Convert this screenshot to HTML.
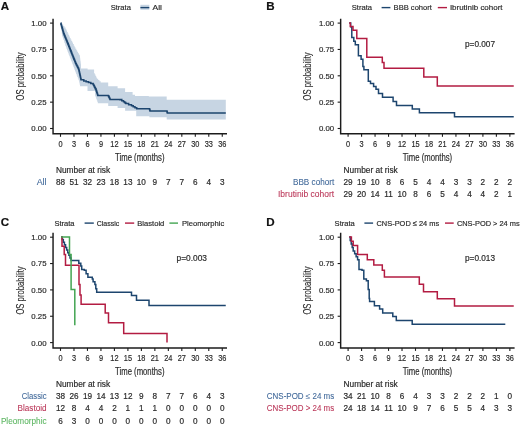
<!DOCTYPE html>
<html><head><meta charset="utf-8"><style>
html,body{margin:0;padding:0;background:#fff;}
svg{display:block;font-family:"Liberation Sans", sans-serif;will-change:transform;}
</style></head><body>
<svg width="520" height="426" viewBox="0 0 520 426">
<rect width="520" height="426" fill="#fff"/>
<text x="0.80" y="9.70" font-size="11.6" text-anchor="start" fill="#111" stroke="#111" stroke-width="0.18" font-weight="bold">A</text>
<path d="M53.05,18.70V133.80H227.00" fill="none" stroke="#1c1c1c" stroke-width="1.45"/>
<path d="M50.05,23.10H53.05" stroke="#1c1c1c" stroke-width="1.1"/>
<text x="46.50" y="26.00" font-size="8" text-anchor="end" fill="#2a2a2a" stroke="#2a2a2a" stroke-width="0.18" font-weight="normal" textLength="15.2" lengthAdjust="spacingAndGlyphs">1.00</text>
<path d="M50.05,49.45H53.05" stroke="#1c1c1c" stroke-width="1.1"/>
<text x="46.50" y="52.35" font-size="8" text-anchor="end" fill="#2a2a2a" stroke="#2a2a2a" stroke-width="0.18" font-weight="normal" textLength="15.2" lengthAdjust="spacingAndGlyphs">0.75</text>
<path d="M50.05,75.80H53.05" stroke="#1c1c1c" stroke-width="1.1"/>
<text x="46.50" y="78.70" font-size="8" text-anchor="end" fill="#2a2a2a" stroke="#2a2a2a" stroke-width="0.18" font-weight="normal" textLength="15.2" lengthAdjust="spacingAndGlyphs">0.50</text>
<path d="M50.05,102.15H53.05" stroke="#1c1c1c" stroke-width="1.1"/>
<text x="46.50" y="105.05" font-size="8" text-anchor="end" fill="#2a2a2a" stroke="#2a2a2a" stroke-width="0.18" font-weight="normal" textLength="15.2" lengthAdjust="spacingAndGlyphs">0.25</text>
<path d="M50.05,128.50H53.05" stroke="#1c1c1c" stroke-width="1.1"/>
<text x="46.50" y="131.40" font-size="8" text-anchor="end" fill="#2a2a2a" stroke="#2a2a2a" stroke-width="0.18" font-weight="normal" textLength="15.2" lengthAdjust="spacingAndGlyphs">0.00</text>
<path d="M60.50,133.80V136.80" stroke="#1c1c1c" stroke-width="1.1"/>
<text x="60.50" y="146.60" font-size="8.8" text-anchor="middle" fill="#2a2a2a" stroke="#2a2a2a" stroke-width="0.18" font-weight="normal" textLength="4.11" lengthAdjust="spacingAndGlyphs">0</text>
<path d="M73.98,133.80V136.80" stroke="#1c1c1c" stroke-width="1.1"/>
<text x="73.98" y="146.60" font-size="8.8" text-anchor="middle" fill="#2a2a2a" stroke="#2a2a2a" stroke-width="0.18" font-weight="normal" textLength="4.11" lengthAdjust="spacingAndGlyphs">3</text>
<path d="M87.46,133.80V136.80" stroke="#1c1c1c" stroke-width="1.1"/>
<text x="87.46" y="146.60" font-size="8.8" text-anchor="middle" fill="#2a2a2a" stroke="#2a2a2a" stroke-width="0.18" font-weight="normal" textLength="4.11" lengthAdjust="spacingAndGlyphs">6</text>
<path d="M100.94,133.80V136.80" stroke="#1c1c1c" stroke-width="1.1"/>
<text x="100.94" y="146.60" font-size="8.8" text-anchor="middle" fill="#2a2a2a" stroke="#2a2a2a" stroke-width="0.18" font-weight="normal" textLength="4.11" lengthAdjust="spacingAndGlyphs">9</text>
<path d="M114.42,133.80V136.80" stroke="#1c1c1c" stroke-width="1.1"/>
<text x="114.42" y="146.60" font-size="8.8" text-anchor="middle" fill="#2a2a2a" stroke="#2a2a2a" stroke-width="0.18" font-weight="normal" textLength="8.22" lengthAdjust="spacingAndGlyphs">12</text>
<path d="M127.90,133.80V136.80" stroke="#1c1c1c" stroke-width="1.1"/>
<text x="127.90" y="146.60" font-size="8.8" text-anchor="middle" fill="#2a2a2a" stroke="#2a2a2a" stroke-width="0.18" font-weight="normal" textLength="8.22" lengthAdjust="spacingAndGlyphs">15</text>
<path d="M141.38,133.80V136.80" stroke="#1c1c1c" stroke-width="1.1"/>
<text x="141.38" y="146.60" font-size="8.8" text-anchor="middle" fill="#2a2a2a" stroke="#2a2a2a" stroke-width="0.18" font-weight="normal" textLength="8.22" lengthAdjust="spacingAndGlyphs">18</text>
<path d="M154.86,133.80V136.80" stroke="#1c1c1c" stroke-width="1.1"/>
<text x="154.86" y="146.60" font-size="8.8" text-anchor="middle" fill="#2a2a2a" stroke="#2a2a2a" stroke-width="0.18" font-weight="normal" textLength="8.22" lengthAdjust="spacingAndGlyphs">21</text>
<path d="M168.34,133.80V136.80" stroke="#1c1c1c" stroke-width="1.1"/>
<text x="168.34" y="146.60" font-size="8.8" text-anchor="middle" fill="#2a2a2a" stroke="#2a2a2a" stroke-width="0.18" font-weight="normal" textLength="8.22" lengthAdjust="spacingAndGlyphs">24</text>
<path d="M181.82,133.80V136.80" stroke="#1c1c1c" stroke-width="1.1"/>
<text x="181.82" y="146.60" font-size="8.8" text-anchor="middle" fill="#2a2a2a" stroke="#2a2a2a" stroke-width="0.18" font-weight="normal" textLength="8.22" lengthAdjust="spacingAndGlyphs">27</text>
<path d="M195.30,133.80V136.80" stroke="#1c1c1c" stroke-width="1.1"/>
<text x="195.30" y="146.60" font-size="8.8" text-anchor="middle" fill="#2a2a2a" stroke="#2a2a2a" stroke-width="0.18" font-weight="normal" textLength="8.22" lengthAdjust="spacingAndGlyphs">30</text>
<path d="M208.78,133.80V136.80" stroke="#1c1c1c" stroke-width="1.1"/>
<text x="208.78" y="146.60" font-size="8.8" text-anchor="middle" fill="#2a2a2a" stroke="#2a2a2a" stroke-width="0.18" font-weight="normal" textLength="8.22" lengthAdjust="spacingAndGlyphs">33</text>
<path d="M222.26,133.80V136.80" stroke="#1c1c1c" stroke-width="1.1"/>
<text x="222.26" y="146.60" font-size="8.8" text-anchor="middle" fill="#2a2a2a" stroke="#2a2a2a" stroke-width="0.18" font-weight="normal" textLength="8.22" lengthAdjust="spacingAndGlyphs">36</text>
<text x="139.80" y="160.60" font-size="10.4" text-anchor="middle" fill="#2a2a2a" stroke="#2a2a2a" stroke-width="0.18" font-weight="normal" textLength="49.5" lengthAdjust="spacingAndGlyphs">Time (months)</text>
<text x="0" y="0" font-size="10.1" text-anchor="middle" fill="#2a2a2a" stroke="#2a2a2a" stroke-width="0.1" textLength="48.2" lengthAdjust="spacingAndGlyphs" transform="translate(23.80,76.40) rotate(-90)">OS probability</text>
<text x="110.70" y="10.30" font-size="7.8" text-anchor="start" fill="#2a2a2a" stroke="#2a2a2a" stroke-width="0.18" font-weight="normal" textLength="20.2" lengthAdjust="spacingAndGlyphs">Strata</text>
<rect x="140.40" y="4.80" width="8.90" height="5" fill="#c7d5e3"/>
<path d="M140.40,7.60H149.30" stroke="#1d456e" stroke-width="1.4"/>
<text x="152.60" y="10.30" font-size="7.8" text-anchor="start" fill="#2a2a2a" stroke="#2a2a2a" stroke-width="0.18" font-weight="normal" textLength="9.4" lengthAdjust="spacingAndGlyphs">All</text>
<text x="55.90" y="173.00" font-size="8.2" text-anchor="start" fill="#2a2a2a" stroke="#2a2a2a" stroke-width="0.18" font-weight="normal" textLength="54.3" lengthAdjust="spacingAndGlyphs">Number at risk</text>
<text x="46.60" y="184.70" font-size="8.2" text-anchor="end" fill="#41699a" stroke="#41699a" stroke-width="0.08" font-weight="normal" textLength="9.9" lengthAdjust="spacingAndGlyphs">All</text>
<text x="60.50" y="184.70" font-size="8.2" text-anchor="middle" fill="#2a2a2a" stroke="#2a2a2a" stroke-width="0.18" font-weight="normal">88</text>
<text x="73.98" y="184.70" font-size="8.2" text-anchor="middle" fill="#2a2a2a" stroke="#2a2a2a" stroke-width="0.18" font-weight="normal">51</text>
<text x="87.46" y="184.70" font-size="8.2" text-anchor="middle" fill="#2a2a2a" stroke="#2a2a2a" stroke-width="0.18" font-weight="normal">32</text>
<text x="100.94" y="184.70" font-size="8.2" text-anchor="middle" fill="#2a2a2a" stroke="#2a2a2a" stroke-width="0.18" font-weight="normal">23</text>
<text x="114.42" y="184.70" font-size="8.2" text-anchor="middle" fill="#2a2a2a" stroke="#2a2a2a" stroke-width="0.18" font-weight="normal">18</text>
<text x="127.90" y="184.70" font-size="8.2" text-anchor="middle" fill="#2a2a2a" stroke="#2a2a2a" stroke-width="0.18" font-weight="normal">13</text>
<text x="141.38" y="184.70" font-size="8.2" text-anchor="middle" fill="#2a2a2a" stroke="#2a2a2a" stroke-width="0.18" font-weight="normal">10</text>
<text x="154.86" y="184.70" font-size="8.2" text-anchor="middle" fill="#2a2a2a" stroke="#2a2a2a" stroke-width="0.18" font-weight="normal">9</text>
<text x="168.34" y="184.70" font-size="8.2" text-anchor="middle" fill="#2a2a2a" stroke="#2a2a2a" stroke-width="0.18" font-weight="normal">7</text>
<text x="181.82" y="184.70" font-size="8.2" text-anchor="middle" fill="#2a2a2a" stroke="#2a2a2a" stroke-width="0.18" font-weight="normal">7</text>
<text x="195.30" y="184.70" font-size="8.2" text-anchor="middle" fill="#2a2a2a" stroke="#2a2a2a" stroke-width="0.18" font-weight="normal">6</text>
<text x="208.78" y="184.70" font-size="8.2" text-anchor="middle" fill="#2a2a2a" stroke="#2a2a2a" stroke-width="0.18" font-weight="normal">4</text>
<text x="222.26" y="184.70" font-size="8.2" text-anchor="middle" fill="#2a2a2a" stroke="#2a2a2a" stroke-width="0.18" font-weight="normal">3</text>
<path d="M60.90,23.00 L62.07,23.00 L62.07,24.52 L63.25,24.52 L63.25,26.05 L64.42,26.05 L64.42,27.58 L65.60,27.58 L65.60,29.10 L66.31,29.10 L66.31,30.57 L67.03,30.57 L67.03,32.04 L67.74,32.04 L67.74,33.51 L68.46,33.51 L68.46,34.99 L69.17,34.99 L69.17,36.46 L69.89,36.46 L69.89,37.93 L70.60,37.93 L70.60,39.40 L71.40,39.40 L71.40,40.97 L72.20,40.97 L72.20,42.53 L73.00,42.53 L73.00,44.10 L73.80,44.10 L73.80,45.67 L74.60,45.67 L74.60,47.23 L75.40,47.23 L75.40,48.80 L76.28,48.80 L76.28,50.30 L77.16,50.30 L77.16,51.80 L78.04,51.80 L78.04,53.30 L78.92,53.30 L78.92,54.80 L79.80,54.80 L79.80,56.30 L80.00,56.30 L80.00,57.87 L80.20,57.87 L80.20,59.43 L80.40,59.43 L80.40,61.00 L80.60,61.00 L80.60,62.57 L80.80,62.57 L80.80,64.13 L81.00,64.13 L81.00,65.70 L81.00,65.70 L81.00,67.10 L81.00,67.10 L81.00,68.50 L87.60,68.50 L87.60,69.50 L94.10,69.50 L94.10,73.20 L94.80,73.20 L94.80,74.60 L95.50,74.60 L95.50,76.00 L96.20,76.00 L96.20,77.40 L96.90,77.40 L96.90,78.80 L98.17,78.80 L98.17,80.03 L99.43,80.03 L99.43,81.27 L100.70,81.27 L100.70,82.50 L108.20,82.50 L108.20,86.30 L117.60,86.30 L117.60,88.20 L125.10,88.20 L125.10,92.00 L132.60,92.00 L132.60,94.70 L135.00,94.70 L135.00,96.00 L148.80,96.00 L148.80,96.50 L166.70,96.50 L166.70,99.80 L225.80,99.80 L225.80,99.80 L225.80,119.60 L225.80,119.60 L166.70,119.60 L166.70,117.30 L149.40,117.30 L149.40,116.20 L136.20,116.20 L136.20,110.70 L125.10,110.70 L125.10,107.90 L117.60,107.90 L117.60,106.00 L108.20,106.00 L108.20,103.20 L97.80,103.20 L97.80,101.70 L97.24,101.70 L97.24,100.20 L96.68,100.20 L96.68,98.70 L96.12,98.70 L96.12,97.20 L95.56,97.20 L95.56,95.70 L95.00,95.70 L95.00,91.00 L87.50,91.00 L87.50,86.30 L80.00,86.30 L80.00,84.77 L79.70,84.77 L79.70,83.23 L79.40,83.23 L79.40,81.70 L79.10,81.70 L79.10,80.13 L78.47,80.13 L78.47,78.57 L77.83,78.57 L77.83,77.00 L77.20,77.00 L77.20,75.53 L76.64,75.53 L76.64,74.07 L76.09,74.07 L76.09,72.60 L75.53,72.60 L75.53,71.13 L74.98,71.13 L74.98,69.67 L74.42,69.67 L74.42,68.20 L73.87,68.20 L73.87,66.73 L73.31,66.73 L73.31,65.27 L72.76,65.27 L72.76,63.80 L72.20,63.80 L72.20,62.30 L71.62,62.30 L71.62,60.80 L71.04,60.80 L71.04,59.30 L70.46,59.30 L70.46,57.80 L69.88,57.80 L69.88,56.30 L69.30,56.30 L69.30,54.80 L68.72,54.80 L68.72,53.30 L68.14,53.30 L68.14,51.80 L67.56,51.80 L67.56,50.30 L66.98,50.30 L66.98,48.80 L66.40,48.80 L66.40,47.34 L65.91,47.34 L65.91,45.89 L65.42,45.89 L65.42,44.43 L64.93,44.43 L64.93,42.98 L64.44,42.98 L64.44,41.52 L63.96,41.52 L63.96,40.07 L63.47,40.07 L63.47,38.61 L62.98,38.61 L62.98,37.16 L62.49,37.16 L62.49,35.70 L62.00,35.70 L62.00,34.11 L61.86,34.11 L61.86,32.53 L61.73,32.53 L61.73,30.94 L61.59,30.94 L61.59,29.35 L61.45,29.35 L61.45,27.76 L61.31,27.76 L61.31,26.18 L61.17,26.18 L61.17,24.59 L61.04,24.59 L61.04,23.00 L60.90,23.00Z" fill="#c7d5e3" stroke="none"/>
<path d="M60.60,23.10 L60.94,23.10 L60.94,24.29 L61.29,24.29 L61.29,25.48 L61.63,25.48 L61.63,26.67 L61.98,26.67 L61.98,27.86 L62.32,27.86 L62.32,29.04 L62.67,29.04 L62.67,30.23 L63.01,30.23 L63.01,31.42 L63.36,31.42 L63.36,32.61 L63.70,32.61 L63.70,33.80 L64.16,33.80 L64.16,34.92 L64.62,34.92 L64.62,36.04 L65.08,36.04 L65.08,37.16 L65.54,37.16 L65.54,38.28 L66.00,38.28 L66.00,39.40 L66.46,39.40 L66.46,40.52 L66.92,40.52 L66.92,41.64 L67.38,41.64 L67.38,42.76 L67.84,42.76 L67.84,43.88 L68.30,43.88 L68.30,45.00 L68.76,45.00 L68.76,46.17 L69.22,46.17 L69.22,47.35 L69.69,47.35 L69.69,48.52 L70.15,48.52 L70.15,49.70 L70.61,49.70 L70.61,50.88 L71.08,50.88 L71.08,52.05 L71.54,52.05 L71.54,53.22 L72.00,53.22 L72.00,54.40 L72.47,54.40 L72.47,55.57 L72.95,55.57 L72.95,56.75 L73.42,56.75 L73.42,57.92 L73.90,57.92 L73.90,59.10 L74.38,59.10 L74.38,60.27 L74.85,60.27 L74.85,61.45 L75.33,61.45 L75.33,62.62 L75.80,62.62 L75.80,63.80 L76.38,63.80 L76.38,64.94 L76.96,64.94 L76.96,66.08 L77.54,66.08 L77.54,67.22 L78.12,67.22 L78.12,68.36 L78.70,68.36 L78.70,69.50 L78.96,69.50 L78.96,70.64 L79.21,70.64 L79.21,71.79 L79.47,71.79 L79.47,72.93 L79.72,72.93 L79.72,74.08 L79.98,74.08 L79.98,75.22 L80.23,75.22 L80.23,76.37 L80.49,76.37 L80.49,77.51 L80.74,77.51 L80.74,78.66 L81.00,78.66 L81.00,79.80 L83.80,79.80 L83.80,80.90 L86.15,80.90 L86.15,81.70 L88.50,81.70 L88.50,82.50 L90.80,82.50 L90.80,83.45 L93.10,83.45 L93.10,84.40 L93.68,84.40 L93.68,85.52 L94.26,85.52 L94.26,86.64 L94.84,86.64 L94.84,87.76 L95.42,87.76 L95.42,88.88 L96.00,88.88 L96.00,90.00 L96.36,90.00 L96.36,91.10 L96.72,91.10 L96.72,92.20 L97.08,92.20 L97.08,93.30 L97.44,93.30 L97.44,94.40 L97.80,94.40 L97.80,95.50 L108.20,95.50 L108.20,95.70 L108.65,95.70 L108.65,96.62 L109.10,96.62 L109.10,97.55 L109.55,97.55 L109.55,98.48 L110.00,98.48 L110.00,99.40 L120.00,99.40 L120.00,99.60 L121.75,99.60 L121.75,100.65 L123.50,100.65 L123.50,101.70 L124.65,101.70 L124.65,102.60 L125.80,102.60 L125.80,103.50 L128.65,103.50 L128.65,104.65 L131.50,104.65 L131.50,105.80 L133.23,105.80 L133.23,106.77 L134.97,106.77 L134.97,107.73 L136.70,107.73 L136.70,108.70 L149.40,108.70 L149.40,109.00 L149.70,109.00 L149.70,110.00 L150.00,110.00 L150.00,111.00 L166.70,111.00 L166.70,111.00 L167.00,111.00 L167.00,112.00 L167.30,112.00 L167.30,113.00 L225.80,113.00 L225.80,113.00" fill="none" stroke="#1d456e" stroke-width="1.55"/>
<text x="266.30" y="9.70" font-size="11.6" text-anchor="start" fill="#111" stroke="#111" stroke-width="0.18" font-weight="bold">B</text>
<path d="M340.65,18.70V133.80H514.60" fill="none" stroke="#1c1c1c" stroke-width="1.45"/>
<path d="M337.65,23.10H340.65" stroke="#1c1c1c" stroke-width="1.1"/>
<text x="334.10" y="26.00" font-size="8" text-anchor="end" fill="#2a2a2a" stroke="#2a2a2a" stroke-width="0.18" font-weight="normal" textLength="15.2" lengthAdjust="spacingAndGlyphs">1.00</text>
<path d="M337.65,49.45H340.65" stroke="#1c1c1c" stroke-width="1.1"/>
<text x="334.10" y="52.35" font-size="8" text-anchor="end" fill="#2a2a2a" stroke="#2a2a2a" stroke-width="0.18" font-weight="normal" textLength="15.2" lengthAdjust="spacingAndGlyphs">0.75</text>
<path d="M337.65,75.80H340.65" stroke="#1c1c1c" stroke-width="1.1"/>
<text x="334.10" y="78.70" font-size="8" text-anchor="end" fill="#2a2a2a" stroke="#2a2a2a" stroke-width="0.18" font-weight="normal" textLength="15.2" lengthAdjust="spacingAndGlyphs">0.50</text>
<path d="M337.65,102.15H340.65" stroke="#1c1c1c" stroke-width="1.1"/>
<text x="334.10" y="105.05" font-size="8" text-anchor="end" fill="#2a2a2a" stroke="#2a2a2a" stroke-width="0.18" font-weight="normal" textLength="15.2" lengthAdjust="spacingAndGlyphs">0.25</text>
<path d="M337.65,128.50H340.65" stroke="#1c1c1c" stroke-width="1.1"/>
<text x="334.10" y="131.40" font-size="8" text-anchor="end" fill="#2a2a2a" stroke="#2a2a2a" stroke-width="0.18" font-weight="normal" textLength="15.2" lengthAdjust="spacingAndGlyphs">0.00</text>
<path d="M348.10,133.80V136.80" stroke="#1c1c1c" stroke-width="1.1"/>
<text x="348.10" y="146.60" font-size="8.8" text-anchor="middle" fill="#2a2a2a" stroke="#2a2a2a" stroke-width="0.18" font-weight="normal" textLength="4.11" lengthAdjust="spacingAndGlyphs">0</text>
<path d="M361.58,133.80V136.80" stroke="#1c1c1c" stroke-width="1.1"/>
<text x="361.58" y="146.60" font-size="8.8" text-anchor="middle" fill="#2a2a2a" stroke="#2a2a2a" stroke-width="0.18" font-weight="normal" textLength="4.11" lengthAdjust="spacingAndGlyphs">3</text>
<path d="M375.06,133.80V136.80" stroke="#1c1c1c" stroke-width="1.1"/>
<text x="375.06" y="146.60" font-size="8.8" text-anchor="middle" fill="#2a2a2a" stroke="#2a2a2a" stroke-width="0.18" font-weight="normal" textLength="4.11" lengthAdjust="spacingAndGlyphs">6</text>
<path d="M388.54,133.80V136.80" stroke="#1c1c1c" stroke-width="1.1"/>
<text x="388.54" y="146.60" font-size="8.8" text-anchor="middle" fill="#2a2a2a" stroke="#2a2a2a" stroke-width="0.18" font-weight="normal" textLength="4.11" lengthAdjust="spacingAndGlyphs">9</text>
<path d="M402.02,133.80V136.80" stroke="#1c1c1c" stroke-width="1.1"/>
<text x="402.02" y="146.60" font-size="8.8" text-anchor="middle" fill="#2a2a2a" stroke="#2a2a2a" stroke-width="0.18" font-weight="normal" textLength="8.22" lengthAdjust="spacingAndGlyphs">12</text>
<path d="M415.50,133.80V136.80" stroke="#1c1c1c" stroke-width="1.1"/>
<text x="415.50" y="146.60" font-size="8.8" text-anchor="middle" fill="#2a2a2a" stroke="#2a2a2a" stroke-width="0.18" font-weight="normal" textLength="8.22" lengthAdjust="spacingAndGlyphs">15</text>
<path d="M428.98,133.80V136.80" stroke="#1c1c1c" stroke-width="1.1"/>
<text x="428.98" y="146.60" font-size="8.8" text-anchor="middle" fill="#2a2a2a" stroke="#2a2a2a" stroke-width="0.18" font-weight="normal" textLength="8.22" lengthAdjust="spacingAndGlyphs">18</text>
<path d="M442.46,133.80V136.80" stroke="#1c1c1c" stroke-width="1.1"/>
<text x="442.46" y="146.60" font-size="8.8" text-anchor="middle" fill="#2a2a2a" stroke="#2a2a2a" stroke-width="0.18" font-weight="normal" textLength="8.22" lengthAdjust="spacingAndGlyphs">21</text>
<path d="M455.94,133.80V136.80" stroke="#1c1c1c" stroke-width="1.1"/>
<text x="455.94" y="146.60" font-size="8.8" text-anchor="middle" fill="#2a2a2a" stroke="#2a2a2a" stroke-width="0.18" font-weight="normal" textLength="8.22" lengthAdjust="spacingAndGlyphs">24</text>
<path d="M469.42,133.80V136.80" stroke="#1c1c1c" stroke-width="1.1"/>
<text x="469.42" y="146.60" font-size="8.8" text-anchor="middle" fill="#2a2a2a" stroke="#2a2a2a" stroke-width="0.18" font-weight="normal" textLength="8.22" lengthAdjust="spacingAndGlyphs">27</text>
<path d="M482.90,133.80V136.80" stroke="#1c1c1c" stroke-width="1.1"/>
<text x="482.90" y="146.60" font-size="8.8" text-anchor="middle" fill="#2a2a2a" stroke="#2a2a2a" stroke-width="0.18" font-weight="normal" textLength="8.22" lengthAdjust="spacingAndGlyphs">30</text>
<path d="M496.38,133.80V136.80" stroke="#1c1c1c" stroke-width="1.1"/>
<text x="496.38" y="146.60" font-size="8.8" text-anchor="middle" fill="#2a2a2a" stroke="#2a2a2a" stroke-width="0.18" font-weight="normal" textLength="8.22" lengthAdjust="spacingAndGlyphs">33</text>
<path d="M509.86,133.80V136.80" stroke="#1c1c1c" stroke-width="1.1"/>
<text x="509.86" y="146.60" font-size="8.8" text-anchor="middle" fill="#2a2a2a" stroke="#2a2a2a" stroke-width="0.18" font-weight="normal" textLength="8.22" lengthAdjust="spacingAndGlyphs">36</text>
<text x="427.40" y="160.60" font-size="10.4" text-anchor="middle" fill="#2a2a2a" stroke="#2a2a2a" stroke-width="0.18" font-weight="normal" textLength="49.5" lengthAdjust="spacingAndGlyphs">Time (months)</text>
<text x="0" y="0" font-size="10.1" text-anchor="middle" fill="#2a2a2a" stroke="#2a2a2a" stroke-width="0.1" textLength="48.2" lengthAdjust="spacingAndGlyphs" transform="translate(311.40,76.40) rotate(-90)">OS probability</text>
<text x="351.80" y="10.30" font-size="7.8" text-anchor="start" fill="#2a2a2a" stroke="#2a2a2a" stroke-width="0.18" font-weight="normal" textLength="20.2" lengthAdjust="spacingAndGlyphs">Strata</text>
<path d="M381.60,7.60H390.40" stroke="#1d456e" stroke-width="1.4"/>
<text x="393.60" y="10.30" font-size="7.8" text-anchor="start" fill="#2a2a2a" stroke="#2a2a2a" stroke-width="0.18" font-weight="normal" textLength="38.3" lengthAdjust="spacingAndGlyphs">BBB cohort</text>
<path d="M437.80,7.60H447.00" stroke="#b31c42" stroke-width="1.4"/>
<text x="449.90" y="10.30" font-size="7.8" text-anchor="start" fill="#2a2a2a" stroke="#2a2a2a" stroke-width="0.18" font-weight="normal" textLength="52.6" lengthAdjust="spacingAndGlyphs">Ibrutinib cohort</text>
<text x="343.50" y="173.00" font-size="8.2" text-anchor="start" fill="#2a2a2a" stroke="#2a2a2a" stroke-width="0.18" font-weight="normal" textLength="54.3" lengthAdjust="spacingAndGlyphs">Number at risk</text>
<text x="334.20" y="184.70" font-size="8.2" text-anchor="end" fill="#41699a" stroke="#41699a" stroke-width="0.08" font-weight="normal" textLength="41.2" lengthAdjust="spacingAndGlyphs">BBB cohort</text>
<text x="348.10" y="184.70" font-size="8.2" text-anchor="middle" fill="#2a2a2a" stroke="#2a2a2a" stroke-width="0.18" font-weight="normal">29</text>
<text x="361.58" y="184.70" font-size="8.2" text-anchor="middle" fill="#2a2a2a" stroke="#2a2a2a" stroke-width="0.18" font-weight="normal">19</text>
<text x="375.06" y="184.70" font-size="8.2" text-anchor="middle" fill="#2a2a2a" stroke="#2a2a2a" stroke-width="0.18" font-weight="normal">10</text>
<text x="388.54" y="184.70" font-size="8.2" text-anchor="middle" fill="#2a2a2a" stroke="#2a2a2a" stroke-width="0.18" font-weight="normal">8</text>
<text x="402.02" y="184.70" font-size="8.2" text-anchor="middle" fill="#2a2a2a" stroke="#2a2a2a" stroke-width="0.18" font-weight="normal">6</text>
<text x="415.50" y="184.70" font-size="8.2" text-anchor="middle" fill="#2a2a2a" stroke="#2a2a2a" stroke-width="0.18" font-weight="normal">5</text>
<text x="428.98" y="184.70" font-size="8.2" text-anchor="middle" fill="#2a2a2a" stroke="#2a2a2a" stroke-width="0.18" font-weight="normal">4</text>
<text x="442.46" y="184.70" font-size="8.2" text-anchor="middle" fill="#2a2a2a" stroke="#2a2a2a" stroke-width="0.18" font-weight="normal">4</text>
<text x="455.94" y="184.70" font-size="8.2" text-anchor="middle" fill="#2a2a2a" stroke="#2a2a2a" stroke-width="0.18" font-weight="normal">3</text>
<text x="469.42" y="184.70" font-size="8.2" text-anchor="middle" fill="#2a2a2a" stroke="#2a2a2a" stroke-width="0.18" font-weight="normal">3</text>
<text x="482.90" y="184.70" font-size="8.2" text-anchor="middle" fill="#2a2a2a" stroke="#2a2a2a" stroke-width="0.18" font-weight="normal">2</text>
<text x="496.38" y="184.70" font-size="8.2" text-anchor="middle" fill="#2a2a2a" stroke="#2a2a2a" stroke-width="0.18" font-weight="normal">2</text>
<text x="509.86" y="184.70" font-size="8.2" text-anchor="middle" fill="#2a2a2a" stroke="#2a2a2a" stroke-width="0.18" font-weight="normal">2</text>
<text x="334.20" y="197.20" font-size="8.2" text-anchor="end" fill="#bb3759" stroke="#bb3759" stroke-width="0.08" font-weight="normal" textLength="56.2" lengthAdjust="spacingAndGlyphs">Ibrutinib cohort</text>
<text x="348.10" y="197.20" font-size="8.2" text-anchor="middle" fill="#2a2a2a" stroke="#2a2a2a" stroke-width="0.18" font-weight="normal">29</text>
<text x="361.58" y="197.20" font-size="8.2" text-anchor="middle" fill="#2a2a2a" stroke="#2a2a2a" stroke-width="0.18" font-weight="normal">20</text>
<text x="375.06" y="197.20" font-size="8.2" text-anchor="middle" fill="#2a2a2a" stroke="#2a2a2a" stroke-width="0.18" font-weight="normal">14</text>
<text x="388.54" y="197.20" font-size="8.2" text-anchor="middle" fill="#2a2a2a" stroke="#2a2a2a" stroke-width="0.18" font-weight="normal">11</text>
<text x="402.02" y="197.20" font-size="8.2" text-anchor="middle" fill="#2a2a2a" stroke="#2a2a2a" stroke-width="0.18" font-weight="normal">10</text>
<text x="415.50" y="197.20" font-size="8.2" text-anchor="middle" fill="#2a2a2a" stroke="#2a2a2a" stroke-width="0.18" font-weight="normal">8</text>
<text x="428.98" y="197.20" font-size="8.2" text-anchor="middle" fill="#2a2a2a" stroke="#2a2a2a" stroke-width="0.18" font-weight="normal">6</text>
<text x="442.46" y="197.20" font-size="8.2" text-anchor="middle" fill="#2a2a2a" stroke="#2a2a2a" stroke-width="0.18" font-weight="normal">5</text>
<text x="455.94" y="197.20" font-size="8.2" text-anchor="middle" fill="#2a2a2a" stroke="#2a2a2a" stroke-width="0.18" font-weight="normal">4</text>
<text x="469.42" y="197.20" font-size="8.2" text-anchor="middle" fill="#2a2a2a" stroke="#2a2a2a" stroke-width="0.18" font-weight="normal">4</text>
<text x="482.90" y="197.20" font-size="8.2" text-anchor="middle" fill="#2a2a2a" stroke="#2a2a2a" stroke-width="0.18" font-weight="normal">4</text>
<text x="496.38" y="197.20" font-size="8.2" text-anchor="middle" fill="#2a2a2a" stroke="#2a2a2a" stroke-width="0.18" font-weight="normal">2</text>
<text x="509.86" y="197.20" font-size="8.2" text-anchor="middle" fill="#2a2a2a" stroke="#2a2a2a" stroke-width="0.18" font-weight="normal">1</text>
<text x="465.00" y="46.50" font-size="8.2" text-anchor="start" fill="#2a2a2a" stroke="#2a2a2a" stroke-width="0.18" font-weight="normal" textLength="30.0" lengthAdjust="spacingAndGlyphs">p=0.007</text>
<path d="M349.20,23.10H350.70V26.70H351.80V37.50H353.80V41.20H355.30V44.80H358.40V55.70H361.10V59.30H362.90V66.50H363.90V69.80H368.30V81.30H370.50V83.50H373.60V86.60H376.00V89.20H378.50V93.40H382.50V97.30H393.10V101.60H396.50V105.40H412.30V109.00H419.40V112.80H454.50V116.70H513.75V116.70" fill="none" stroke="#1d456e" stroke-width="1.5" stroke-linejoin="miter" stroke-linecap="butt"/>
<path d="M349.20,23.10H350.30V26.50H353.00V30.30H356.80V38.60H366.80V57.30H382.30V62.60H384.00V68.30H423.80V77.00H437.30V85.90H513.75V85.90" fill="none" stroke="#b31c42" stroke-width="1.5" stroke-linejoin="miter" stroke-linecap="butt"/>
<text x="0.80" y="226.00" font-size="11.6" text-anchor="start" fill="#111" stroke="#111" stroke-width="0.18" font-weight="bold">C</text>
<path d="M53.05,232.80V347.90H227.00" fill="none" stroke="#1c1c1c" stroke-width="1.45"/>
<path d="M50.05,237.20H53.05" stroke="#1c1c1c" stroke-width="1.1"/>
<text x="46.50" y="240.10" font-size="8" text-anchor="end" fill="#2a2a2a" stroke="#2a2a2a" stroke-width="0.18" font-weight="normal" textLength="15.2" lengthAdjust="spacingAndGlyphs">1.00</text>
<path d="M50.05,263.55H53.05" stroke="#1c1c1c" stroke-width="1.1"/>
<text x="46.50" y="266.45" font-size="8" text-anchor="end" fill="#2a2a2a" stroke="#2a2a2a" stroke-width="0.18" font-weight="normal" textLength="15.2" lengthAdjust="spacingAndGlyphs">0.75</text>
<path d="M50.05,289.90H53.05" stroke="#1c1c1c" stroke-width="1.1"/>
<text x="46.50" y="292.80" font-size="8" text-anchor="end" fill="#2a2a2a" stroke="#2a2a2a" stroke-width="0.18" font-weight="normal" textLength="15.2" lengthAdjust="spacingAndGlyphs">0.50</text>
<path d="M50.05,316.25H53.05" stroke="#1c1c1c" stroke-width="1.1"/>
<text x="46.50" y="319.15" font-size="8" text-anchor="end" fill="#2a2a2a" stroke="#2a2a2a" stroke-width="0.18" font-weight="normal" textLength="15.2" lengthAdjust="spacingAndGlyphs">0.25</text>
<path d="M50.05,342.60H53.05" stroke="#1c1c1c" stroke-width="1.1"/>
<text x="46.50" y="345.50" font-size="8" text-anchor="end" fill="#2a2a2a" stroke="#2a2a2a" stroke-width="0.18" font-weight="normal" textLength="15.2" lengthAdjust="spacingAndGlyphs">0.00</text>
<path d="M60.50,347.90V350.90" stroke="#1c1c1c" stroke-width="1.1"/>
<text x="60.50" y="360.70" font-size="8.8" text-anchor="middle" fill="#2a2a2a" stroke="#2a2a2a" stroke-width="0.18" font-weight="normal" textLength="4.11" lengthAdjust="spacingAndGlyphs">0</text>
<path d="M73.98,347.90V350.90" stroke="#1c1c1c" stroke-width="1.1"/>
<text x="73.98" y="360.70" font-size="8.8" text-anchor="middle" fill="#2a2a2a" stroke="#2a2a2a" stroke-width="0.18" font-weight="normal" textLength="4.11" lengthAdjust="spacingAndGlyphs">3</text>
<path d="M87.46,347.90V350.90" stroke="#1c1c1c" stroke-width="1.1"/>
<text x="87.46" y="360.70" font-size="8.8" text-anchor="middle" fill="#2a2a2a" stroke="#2a2a2a" stroke-width="0.18" font-weight="normal" textLength="4.11" lengthAdjust="spacingAndGlyphs">6</text>
<path d="M100.94,347.90V350.90" stroke="#1c1c1c" stroke-width="1.1"/>
<text x="100.94" y="360.70" font-size="8.8" text-anchor="middle" fill="#2a2a2a" stroke="#2a2a2a" stroke-width="0.18" font-weight="normal" textLength="4.11" lengthAdjust="spacingAndGlyphs">9</text>
<path d="M114.42,347.90V350.90" stroke="#1c1c1c" stroke-width="1.1"/>
<text x="114.42" y="360.70" font-size="8.8" text-anchor="middle" fill="#2a2a2a" stroke="#2a2a2a" stroke-width="0.18" font-weight="normal" textLength="8.22" lengthAdjust="spacingAndGlyphs">12</text>
<path d="M127.90,347.90V350.90" stroke="#1c1c1c" stroke-width="1.1"/>
<text x="127.90" y="360.70" font-size="8.8" text-anchor="middle" fill="#2a2a2a" stroke="#2a2a2a" stroke-width="0.18" font-weight="normal" textLength="8.22" lengthAdjust="spacingAndGlyphs">15</text>
<path d="M141.38,347.90V350.90" stroke="#1c1c1c" stroke-width="1.1"/>
<text x="141.38" y="360.70" font-size="8.8" text-anchor="middle" fill="#2a2a2a" stroke="#2a2a2a" stroke-width="0.18" font-weight="normal" textLength="8.22" lengthAdjust="spacingAndGlyphs">18</text>
<path d="M154.86,347.90V350.90" stroke="#1c1c1c" stroke-width="1.1"/>
<text x="154.86" y="360.70" font-size="8.8" text-anchor="middle" fill="#2a2a2a" stroke="#2a2a2a" stroke-width="0.18" font-weight="normal" textLength="8.22" lengthAdjust="spacingAndGlyphs">21</text>
<path d="M168.34,347.90V350.90" stroke="#1c1c1c" stroke-width="1.1"/>
<text x="168.34" y="360.70" font-size="8.8" text-anchor="middle" fill="#2a2a2a" stroke="#2a2a2a" stroke-width="0.18" font-weight="normal" textLength="8.22" lengthAdjust="spacingAndGlyphs">24</text>
<path d="M181.82,347.90V350.90" stroke="#1c1c1c" stroke-width="1.1"/>
<text x="181.82" y="360.70" font-size="8.8" text-anchor="middle" fill="#2a2a2a" stroke="#2a2a2a" stroke-width="0.18" font-weight="normal" textLength="8.22" lengthAdjust="spacingAndGlyphs">27</text>
<path d="M195.30,347.90V350.90" stroke="#1c1c1c" stroke-width="1.1"/>
<text x="195.30" y="360.70" font-size="8.8" text-anchor="middle" fill="#2a2a2a" stroke="#2a2a2a" stroke-width="0.18" font-weight="normal" textLength="8.22" lengthAdjust="spacingAndGlyphs">30</text>
<path d="M208.78,347.90V350.90" stroke="#1c1c1c" stroke-width="1.1"/>
<text x="208.78" y="360.70" font-size="8.8" text-anchor="middle" fill="#2a2a2a" stroke="#2a2a2a" stroke-width="0.18" font-weight="normal" textLength="8.22" lengthAdjust="spacingAndGlyphs">33</text>
<path d="M222.26,347.90V350.90" stroke="#1c1c1c" stroke-width="1.1"/>
<text x="222.26" y="360.70" font-size="8.8" text-anchor="middle" fill="#2a2a2a" stroke="#2a2a2a" stroke-width="0.18" font-weight="normal" textLength="8.22" lengthAdjust="spacingAndGlyphs">36</text>
<text x="139.80" y="374.70" font-size="10.4" text-anchor="middle" fill="#2a2a2a" stroke="#2a2a2a" stroke-width="0.18" font-weight="normal" textLength="49.5" lengthAdjust="spacingAndGlyphs">Time (months)</text>
<text x="0" y="0" font-size="10.1" text-anchor="middle" fill="#2a2a2a" stroke="#2a2a2a" stroke-width="0.1" textLength="48.2" lengthAdjust="spacingAndGlyphs" transform="translate(23.80,290.50) rotate(-90)">OS probability</text>
<text x="54.40" y="225.80" font-size="7.8" text-anchor="start" fill="#2a2a2a" stroke="#2a2a2a" stroke-width="0.18" font-weight="normal" textLength="20.2" lengthAdjust="spacingAndGlyphs">Strata</text>
<path d="M84.60,223.10H93.80" stroke="#1d456e" stroke-width="1.4"/>
<text x="96.70" y="225.80" font-size="7.8" text-anchor="start" fill="#2a2a2a" stroke="#2a2a2a" stroke-width="0.18" font-weight="normal" textLength="22.6" lengthAdjust="spacingAndGlyphs">Classic</text>
<path d="M125.00,223.10H134.20" stroke="#b31c42" stroke-width="1.4"/>
<text x="137.30" y="225.80" font-size="7.8" text-anchor="start" fill="#2a2a2a" stroke="#2a2a2a" stroke-width="0.18" font-weight="normal" textLength="27.0" lengthAdjust="spacingAndGlyphs">Blastoid</text>
<path d="M169.40,223.10H178.00" stroke="#43a552" stroke-width="1.4"/>
<text x="181.90" y="225.80" font-size="7.8" text-anchor="start" fill="#2a2a2a" stroke="#2a2a2a" stroke-width="0.18" font-weight="normal" textLength="42.5" lengthAdjust="spacingAndGlyphs">Pleomorphic</text>
<text x="55.90" y="387.10" font-size="8.2" text-anchor="start" fill="#2a2a2a" stroke="#2a2a2a" stroke-width="0.18" font-weight="normal" textLength="54.3" lengthAdjust="spacingAndGlyphs">Number at risk</text>
<text x="46.60" y="398.80" font-size="8.2" text-anchor="end" fill="#41699a" stroke="#41699a" stroke-width="0.08" font-weight="normal" textLength="24.8" lengthAdjust="spacingAndGlyphs">Classic</text>
<text x="60.50" y="398.80" font-size="8.2" text-anchor="middle" fill="#2a2a2a" stroke="#2a2a2a" stroke-width="0.18" font-weight="normal">38</text>
<text x="73.98" y="398.80" font-size="8.2" text-anchor="middle" fill="#2a2a2a" stroke="#2a2a2a" stroke-width="0.18" font-weight="normal">26</text>
<text x="87.46" y="398.80" font-size="8.2" text-anchor="middle" fill="#2a2a2a" stroke="#2a2a2a" stroke-width="0.18" font-weight="normal">19</text>
<text x="100.94" y="398.80" font-size="8.2" text-anchor="middle" fill="#2a2a2a" stroke="#2a2a2a" stroke-width="0.18" font-weight="normal">14</text>
<text x="114.42" y="398.80" font-size="8.2" text-anchor="middle" fill="#2a2a2a" stroke="#2a2a2a" stroke-width="0.18" font-weight="normal">13</text>
<text x="127.90" y="398.80" font-size="8.2" text-anchor="middle" fill="#2a2a2a" stroke="#2a2a2a" stroke-width="0.18" font-weight="normal">12</text>
<text x="141.38" y="398.80" font-size="8.2" text-anchor="middle" fill="#2a2a2a" stroke="#2a2a2a" stroke-width="0.18" font-weight="normal">9</text>
<text x="154.86" y="398.80" font-size="8.2" text-anchor="middle" fill="#2a2a2a" stroke="#2a2a2a" stroke-width="0.18" font-weight="normal">8</text>
<text x="168.34" y="398.80" font-size="8.2" text-anchor="middle" fill="#2a2a2a" stroke="#2a2a2a" stroke-width="0.18" font-weight="normal">7</text>
<text x="181.82" y="398.80" font-size="8.2" text-anchor="middle" fill="#2a2a2a" stroke="#2a2a2a" stroke-width="0.18" font-weight="normal">7</text>
<text x="195.30" y="398.80" font-size="8.2" text-anchor="middle" fill="#2a2a2a" stroke="#2a2a2a" stroke-width="0.18" font-weight="normal">6</text>
<text x="208.78" y="398.80" font-size="8.2" text-anchor="middle" fill="#2a2a2a" stroke="#2a2a2a" stroke-width="0.18" font-weight="normal">4</text>
<text x="222.26" y="398.80" font-size="8.2" text-anchor="middle" fill="#2a2a2a" stroke="#2a2a2a" stroke-width="0.18" font-weight="normal">3</text>
<text x="46.60" y="411.30" font-size="8.2" text-anchor="end" fill="#bb3759" stroke="#bb3759" stroke-width="0.08" font-weight="normal" textLength="29.0" lengthAdjust="spacingAndGlyphs">Blastoid</text>
<text x="60.50" y="411.30" font-size="8.2" text-anchor="middle" fill="#2a2a2a" stroke="#2a2a2a" stroke-width="0.18" font-weight="normal">12</text>
<text x="73.98" y="411.30" font-size="8.2" text-anchor="middle" fill="#2a2a2a" stroke="#2a2a2a" stroke-width="0.18" font-weight="normal">8</text>
<text x="87.46" y="411.30" font-size="8.2" text-anchor="middle" fill="#2a2a2a" stroke="#2a2a2a" stroke-width="0.18" font-weight="normal">4</text>
<text x="100.94" y="411.30" font-size="8.2" text-anchor="middle" fill="#2a2a2a" stroke="#2a2a2a" stroke-width="0.18" font-weight="normal">4</text>
<text x="114.42" y="411.30" font-size="8.2" text-anchor="middle" fill="#2a2a2a" stroke="#2a2a2a" stroke-width="0.18" font-weight="normal">2</text>
<text x="127.90" y="411.30" font-size="8.2" text-anchor="middle" fill="#2a2a2a" stroke="#2a2a2a" stroke-width="0.18" font-weight="normal">1</text>
<text x="141.38" y="411.30" font-size="8.2" text-anchor="middle" fill="#2a2a2a" stroke="#2a2a2a" stroke-width="0.18" font-weight="normal">1</text>
<text x="154.86" y="411.30" font-size="8.2" text-anchor="middle" fill="#2a2a2a" stroke="#2a2a2a" stroke-width="0.18" font-weight="normal">1</text>
<text x="168.34" y="411.30" font-size="8.2" text-anchor="middle" fill="#2a2a2a" stroke="#2a2a2a" stroke-width="0.18" font-weight="normal">0</text>
<text x="181.82" y="411.30" font-size="8.2" text-anchor="middle" fill="#2a2a2a" stroke="#2a2a2a" stroke-width="0.18" font-weight="normal">0</text>
<text x="195.30" y="411.30" font-size="8.2" text-anchor="middle" fill="#2a2a2a" stroke="#2a2a2a" stroke-width="0.18" font-weight="normal">0</text>
<text x="208.78" y="411.30" font-size="8.2" text-anchor="middle" fill="#2a2a2a" stroke="#2a2a2a" stroke-width="0.18" font-weight="normal">0</text>
<text x="222.26" y="411.30" font-size="8.2" text-anchor="middle" fill="#2a2a2a" stroke="#2a2a2a" stroke-width="0.18" font-weight="normal">0</text>
<text x="46.60" y="423.80" font-size="8.2" text-anchor="end" fill="#5db662" stroke="#5db662" stroke-width="0.08" font-weight="normal" textLength="45.7" lengthAdjust="spacingAndGlyphs">Pleomorphic</text>
<text x="60.50" y="423.80" font-size="8.2" text-anchor="middle" fill="#2a2a2a" stroke="#2a2a2a" stroke-width="0.18" font-weight="normal">6</text>
<text x="73.98" y="423.80" font-size="8.2" text-anchor="middle" fill="#2a2a2a" stroke="#2a2a2a" stroke-width="0.18" font-weight="normal">3</text>
<text x="87.46" y="423.80" font-size="8.2" text-anchor="middle" fill="#2a2a2a" stroke="#2a2a2a" stroke-width="0.18" font-weight="normal">0</text>
<text x="100.94" y="423.80" font-size="8.2" text-anchor="middle" fill="#2a2a2a" stroke="#2a2a2a" stroke-width="0.18" font-weight="normal">0</text>
<text x="114.42" y="423.80" font-size="8.2" text-anchor="middle" fill="#2a2a2a" stroke="#2a2a2a" stroke-width="0.18" font-weight="normal">0</text>
<text x="127.90" y="423.80" font-size="8.2" text-anchor="middle" fill="#2a2a2a" stroke="#2a2a2a" stroke-width="0.18" font-weight="normal">0</text>
<text x="141.38" y="423.80" font-size="8.2" text-anchor="middle" fill="#2a2a2a" stroke="#2a2a2a" stroke-width="0.18" font-weight="normal">0</text>
<text x="154.86" y="423.80" font-size="8.2" text-anchor="middle" fill="#2a2a2a" stroke="#2a2a2a" stroke-width="0.18" font-weight="normal">0</text>
<text x="168.34" y="423.80" font-size="8.2" text-anchor="middle" fill="#2a2a2a" stroke="#2a2a2a" stroke-width="0.18" font-weight="normal">0</text>
<text x="181.82" y="423.80" font-size="8.2" text-anchor="middle" fill="#2a2a2a" stroke="#2a2a2a" stroke-width="0.18" font-weight="normal">0</text>
<text x="195.30" y="423.80" font-size="8.2" text-anchor="middle" fill="#2a2a2a" stroke="#2a2a2a" stroke-width="0.18" font-weight="normal">0</text>
<text x="208.78" y="423.80" font-size="8.2" text-anchor="middle" fill="#2a2a2a" stroke="#2a2a2a" stroke-width="0.18" font-weight="normal">0</text>
<text x="222.26" y="423.80" font-size="8.2" text-anchor="middle" fill="#2a2a2a" stroke="#2a2a2a" stroke-width="0.18" font-weight="normal">0</text>
<text x="176.60" y="260.60" font-size="8.2" text-anchor="start" fill="#2a2a2a" stroke="#2a2a2a" stroke-width="0.18" font-weight="normal" textLength="30.4" lengthAdjust="spacingAndGlyphs">p=0.003</text>
<path d="M61.10,236.90H62.21V239.53H63.32V242.17H64.43V244.80H65.54V247.43H66.66V250.07H67.77V252.70H68.88V255.33H69.99V257.97H71.10V260.60H78.80V263.20H80.80V265.90H81.70V269.40H84.30V270.30H86.10V273.80H87.90V277.30H92.30V279.10H93.10V281.70H94.90V284.40H95.80V288.80H96.70V292.30H131.50V295.40H136.50V300.30H149.00V305.40H225.75V305.40" fill="none" stroke="#1d456e" stroke-width="1.5" stroke-linejoin="miter" stroke-linecap="butt"/>
<path d="M61.10,236.90H62.00V246.20H64.20V254.40H65.50V265.30H79.00V284.40H80.00V295.00H81.10V304.30H105.20V313.10H108.50V322.80H123.70V333.60H167.00V342.40" fill="none" stroke="#b31c42" stroke-width="1.5" stroke-linejoin="miter" stroke-linecap="butt"/>
<path d="M61.10,236.90H69.50V254.40H71.10V272.00H71.10V289.50H74.80V307.30H74.80V325.20" fill="none" stroke="#43a552" stroke-width="1.5" stroke-linejoin="miter" stroke-linecap="butt"/>
<text x="266.30" y="226.00" font-size="11.6" text-anchor="start" fill="#111" stroke="#111" stroke-width="0.18" font-weight="bold">D</text>
<path d="M340.65,232.80V347.90H514.60" fill="none" stroke="#1c1c1c" stroke-width="1.45"/>
<path d="M337.65,237.20H340.65" stroke="#1c1c1c" stroke-width="1.1"/>
<text x="334.10" y="240.10" font-size="8" text-anchor="end" fill="#2a2a2a" stroke="#2a2a2a" stroke-width="0.18" font-weight="normal" textLength="15.2" lengthAdjust="spacingAndGlyphs">1.00</text>
<path d="M337.65,263.55H340.65" stroke="#1c1c1c" stroke-width="1.1"/>
<text x="334.10" y="266.45" font-size="8" text-anchor="end" fill="#2a2a2a" stroke="#2a2a2a" stroke-width="0.18" font-weight="normal" textLength="15.2" lengthAdjust="spacingAndGlyphs">0.75</text>
<path d="M337.65,289.90H340.65" stroke="#1c1c1c" stroke-width="1.1"/>
<text x="334.10" y="292.80" font-size="8" text-anchor="end" fill="#2a2a2a" stroke="#2a2a2a" stroke-width="0.18" font-weight="normal" textLength="15.2" lengthAdjust="spacingAndGlyphs">0.50</text>
<path d="M337.65,316.25H340.65" stroke="#1c1c1c" stroke-width="1.1"/>
<text x="334.10" y="319.15" font-size="8" text-anchor="end" fill="#2a2a2a" stroke="#2a2a2a" stroke-width="0.18" font-weight="normal" textLength="15.2" lengthAdjust="spacingAndGlyphs">0.25</text>
<path d="M337.65,342.60H340.65" stroke="#1c1c1c" stroke-width="1.1"/>
<text x="334.10" y="345.50" font-size="8" text-anchor="end" fill="#2a2a2a" stroke="#2a2a2a" stroke-width="0.18" font-weight="normal" textLength="15.2" lengthAdjust="spacingAndGlyphs">0.00</text>
<path d="M348.10,347.90V350.90" stroke="#1c1c1c" stroke-width="1.1"/>
<text x="348.10" y="360.70" font-size="8.8" text-anchor="middle" fill="#2a2a2a" stroke="#2a2a2a" stroke-width="0.18" font-weight="normal" textLength="4.11" lengthAdjust="spacingAndGlyphs">0</text>
<path d="M361.58,347.90V350.90" stroke="#1c1c1c" stroke-width="1.1"/>
<text x="361.58" y="360.70" font-size="8.8" text-anchor="middle" fill="#2a2a2a" stroke="#2a2a2a" stroke-width="0.18" font-weight="normal" textLength="4.11" lengthAdjust="spacingAndGlyphs">3</text>
<path d="M375.06,347.90V350.90" stroke="#1c1c1c" stroke-width="1.1"/>
<text x="375.06" y="360.70" font-size="8.8" text-anchor="middle" fill="#2a2a2a" stroke="#2a2a2a" stroke-width="0.18" font-weight="normal" textLength="4.11" lengthAdjust="spacingAndGlyphs">6</text>
<path d="M388.54,347.90V350.90" stroke="#1c1c1c" stroke-width="1.1"/>
<text x="388.54" y="360.70" font-size="8.8" text-anchor="middle" fill="#2a2a2a" stroke="#2a2a2a" stroke-width="0.18" font-weight="normal" textLength="4.11" lengthAdjust="spacingAndGlyphs">9</text>
<path d="M402.02,347.90V350.90" stroke="#1c1c1c" stroke-width="1.1"/>
<text x="402.02" y="360.70" font-size="8.8" text-anchor="middle" fill="#2a2a2a" stroke="#2a2a2a" stroke-width="0.18" font-weight="normal" textLength="8.22" lengthAdjust="spacingAndGlyphs">12</text>
<path d="M415.50,347.90V350.90" stroke="#1c1c1c" stroke-width="1.1"/>
<text x="415.50" y="360.70" font-size="8.8" text-anchor="middle" fill="#2a2a2a" stroke="#2a2a2a" stroke-width="0.18" font-weight="normal" textLength="8.22" lengthAdjust="spacingAndGlyphs">15</text>
<path d="M428.98,347.90V350.90" stroke="#1c1c1c" stroke-width="1.1"/>
<text x="428.98" y="360.70" font-size="8.8" text-anchor="middle" fill="#2a2a2a" stroke="#2a2a2a" stroke-width="0.18" font-weight="normal" textLength="8.22" lengthAdjust="spacingAndGlyphs">18</text>
<path d="M442.46,347.90V350.90" stroke="#1c1c1c" stroke-width="1.1"/>
<text x="442.46" y="360.70" font-size="8.8" text-anchor="middle" fill="#2a2a2a" stroke="#2a2a2a" stroke-width="0.18" font-weight="normal" textLength="8.22" lengthAdjust="spacingAndGlyphs">21</text>
<path d="M455.94,347.90V350.90" stroke="#1c1c1c" stroke-width="1.1"/>
<text x="455.94" y="360.70" font-size="8.8" text-anchor="middle" fill="#2a2a2a" stroke="#2a2a2a" stroke-width="0.18" font-weight="normal" textLength="8.22" lengthAdjust="spacingAndGlyphs">24</text>
<path d="M469.42,347.90V350.90" stroke="#1c1c1c" stroke-width="1.1"/>
<text x="469.42" y="360.70" font-size="8.8" text-anchor="middle" fill="#2a2a2a" stroke="#2a2a2a" stroke-width="0.18" font-weight="normal" textLength="8.22" lengthAdjust="spacingAndGlyphs">27</text>
<path d="M482.90,347.90V350.90" stroke="#1c1c1c" stroke-width="1.1"/>
<text x="482.90" y="360.70" font-size="8.8" text-anchor="middle" fill="#2a2a2a" stroke="#2a2a2a" stroke-width="0.18" font-weight="normal" textLength="8.22" lengthAdjust="spacingAndGlyphs">30</text>
<path d="M496.38,347.90V350.90" stroke="#1c1c1c" stroke-width="1.1"/>
<text x="496.38" y="360.70" font-size="8.8" text-anchor="middle" fill="#2a2a2a" stroke="#2a2a2a" stroke-width="0.18" font-weight="normal" textLength="8.22" lengthAdjust="spacingAndGlyphs">33</text>
<path d="M509.86,347.90V350.90" stroke="#1c1c1c" stroke-width="1.1"/>
<text x="509.86" y="360.70" font-size="8.8" text-anchor="middle" fill="#2a2a2a" stroke="#2a2a2a" stroke-width="0.18" font-weight="normal" textLength="8.22" lengthAdjust="spacingAndGlyphs">36</text>
<text x="427.40" y="374.70" font-size="10.4" text-anchor="middle" fill="#2a2a2a" stroke="#2a2a2a" stroke-width="0.18" font-weight="normal" textLength="49.5" lengthAdjust="spacingAndGlyphs">Time (months)</text>
<text x="0" y="0" font-size="10.1" text-anchor="middle" fill="#2a2a2a" stroke="#2a2a2a" stroke-width="0.1" textLength="48.2" lengthAdjust="spacingAndGlyphs" transform="translate(311.40,290.50) rotate(-90)">OS probability</text>
<text x="334.60" y="225.80" font-size="7.8" text-anchor="start" fill="#2a2a2a" stroke="#2a2a2a" stroke-width="0.18" font-weight="normal" textLength="20.2" lengthAdjust="spacingAndGlyphs">Strata</text>
<path d="M364.40,223.10H373.10" stroke="#1d456e" stroke-width="1.4"/>
<text x="376.50" y="225.80" font-size="7.8" text-anchor="start" fill="#2a2a2a" stroke="#2a2a2a" stroke-width="0.18" font-weight="normal" textLength="62.7" lengthAdjust="spacingAndGlyphs">CNS-POD ≤ 24 ms</text>
<path d="M445.00,223.10H453.70" stroke="#b31c42" stroke-width="1.4"/>
<text x="456.90" y="225.80" font-size="7.8" text-anchor="start" fill="#2a2a2a" stroke="#2a2a2a" stroke-width="0.18" font-weight="normal" textLength="62.7" lengthAdjust="spacingAndGlyphs">CNS-POD &gt; 24 ms</text>
<text x="343.50" y="387.10" font-size="8.2" text-anchor="start" fill="#2a2a2a" stroke="#2a2a2a" stroke-width="0.18" font-weight="normal" textLength="54.3" lengthAdjust="spacingAndGlyphs">Number at risk</text>
<text x="334.20" y="398.80" font-size="8.2" text-anchor="end" fill="#41699a" stroke="#41699a" stroke-width="0.08" font-weight="normal" textLength="67.4" lengthAdjust="spacingAndGlyphs">CNS-POD ≤ 24 ms</text>
<text x="348.10" y="398.80" font-size="8.2" text-anchor="middle" fill="#2a2a2a" stroke="#2a2a2a" stroke-width="0.18" font-weight="normal">34</text>
<text x="361.58" y="398.80" font-size="8.2" text-anchor="middle" fill="#2a2a2a" stroke="#2a2a2a" stroke-width="0.18" font-weight="normal">21</text>
<text x="375.06" y="398.80" font-size="8.2" text-anchor="middle" fill="#2a2a2a" stroke="#2a2a2a" stroke-width="0.18" font-weight="normal">10</text>
<text x="388.54" y="398.80" font-size="8.2" text-anchor="middle" fill="#2a2a2a" stroke="#2a2a2a" stroke-width="0.18" font-weight="normal">8</text>
<text x="402.02" y="398.80" font-size="8.2" text-anchor="middle" fill="#2a2a2a" stroke="#2a2a2a" stroke-width="0.18" font-weight="normal">6</text>
<text x="415.50" y="398.80" font-size="8.2" text-anchor="middle" fill="#2a2a2a" stroke="#2a2a2a" stroke-width="0.18" font-weight="normal">4</text>
<text x="428.98" y="398.80" font-size="8.2" text-anchor="middle" fill="#2a2a2a" stroke="#2a2a2a" stroke-width="0.18" font-weight="normal">3</text>
<text x="442.46" y="398.80" font-size="8.2" text-anchor="middle" fill="#2a2a2a" stroke="#2a2a2a" stroke-width="0.18" font-weight="normal">3</text>
<text x="455.94" y="398.80" font-size="8.2" text-anchor="middle" fill="#2a2a2a" stroke="#2a2a2a" stroke-width="0.18" font-weight="normal">2</text>
<text x="469.42" y="398.80" font-size="8.2" text-anchor="middle" fill="#2a2a2a" stroke="#2a2a2a" stroke-width="0.18" font-weight="normal">2</text>
<text x="482.90" y="398.80" font-size="8.2" text-anchor="middle" fill="#2a2a2a" stroke="#2a2a2a" stroke-width="0.18" font-weight="normal">2</text>
<text x="496.38" y="398.80" font-size="8.2" text-anchor="middle" fill="#2a2a2a" stroke="#2a2a2a" stroke-width="0.18" font-weight="normal">1</text>
<text x="509.86" y="398.80" font-size="8.2" text-anchor="middle" fill="#2a2a2a" stroke="#2a2a2a" stroke-width="0.18" font-weight="normal">0</text>
<text x="334.20" y="411.30" font-size="8.2" text-anchor="end" fill="#bb3759" stroke="#bb3759" stroke-width="0.08" font-weight="normal" textLength="67.4" lengthAdjust="spacingAndGlyphs">CNS-POD &gt; 24 ms</text>
<text x="348.10" y="411.30" font-size="8.2" text-anchor="middle" fill="#2a2a2a" stroke="#2a2a2a" stroke-width="0.18" font-weight="normal">24</text>
<text x="361.58" y="411.30" font-size="8.2" text-anchor="middle" fill="#2a2a2a" stroke="#2a2a2a" stroke-width="0.18" font-weight="normal">18</text>
<text x="375.06" y="411.30" font-size="8.2" text-anchor="middle" fill="#2a2a2a" stroke="#2a2a2a" stroke-width="0.18" font-weight="normal">14</text>
<text x="388.54" y="411.30" font-size="8.2" text-anchor="middle" fill="#2a2a2a" stroke="#2a2a2a" stroke-width="0.18" font-weight="normal">11</text>
<text x="402.02" y="411.30" font-size="8.2" text-anchor="middle" fill="#2a2a2a" stroke="#2a2a2a" stroke-width="0.18" font-weight="normal">10</text>
<text x="415.50" y="411.30" font-size="8.2" text-anchor="middle" fill="#2a2a2a" stroke="#2a2a2a" stroke-width="0.18" font-weight="normal">9</text>
<text x="428.98" y="411.30" font-size="8.2" text-anchor="middle" fill="#2a2a2a" stroke="#2a2a2a" stroke-width="0.18" font-weight="normal">7</text>
<text x="442.46" y="411.30" font-size="8.2" text-anchor="middle" fill="#2a2a2a" stroke="#2a2a2a" stroke-width="0.18" font-weight="normal">6</text>
<text x="455.94" y="411.30" font-size="8.2" text-anchor="middle" fill="#2a2a2a" stroke="#2a2a2a" stroke-width="0.18" font-weight="normal">5</text>
<text x="469.42" y="411.30" font-size="8.2" text-anchor="middle" fill="#2a2a2a" stroke="#2a2a2a" stroke-width="0.18" font-weight="normal">5</text>
<text x="482.90" y="411.30" font-size="8.2" text-anchor="middle" fill="#2a2a2a" stroke="#2a2a2a" stroke-width="0.18" font-weight="normal">4</text>
<text x="496.38" y="411.30" font-size="8.2" text-anchor="middle" fill="#2a2a2a" stroke="#2a2a2a" stroke-width="0.18" font-weight="normal">3</text>
<text x="509.86" y="411.30" font-size="8.2" text-anchor="middle" fill="#2a2a2a" stroke="#2a2a2a" stroke-width="0.18" font-weight="normal">3</text>
<text x="465.00" y="260.60" font-size="8.2" text-anchor="start" fill="#2a2a2a" stroke="#2a2a2a" stroke-width="0.18" font-weight="normal" textLength="30.0" lengthAdjust="spacingAndGlyphs">p=0.013</text>
<path d="M349.20,236.90H350.20V240.40H351.20V243.90H352.20V247.40H353.20V250.90H354.67V253.83H356.13V256.77H357.60V259.70H359.00V269.40H362.00V270.30H363.80V279.10H366.40V280.80H368.20V289.60H369.20V298.40H369.60V301.60H374.40V305.80H379.60V309.00H382.70V312.90H392.80V316.60H396.30V320.40H412.20V324.20H505.30V324.20" fill="none" stroke="#1d456e" stroke-width="1.5" stroke-linejoin="miter" stroke-linecap="butt"/>
<path d="M349.20,236.90H351.40V241.20H353.20V245.60H357.60V254.40H367.30V259.70H373.80V265.00H382.30V270.30H384.40V276.90H419.30V284.20H423.50V291.70H437.30V298.80H454.50V306.00H513.75V306.00" fill="none" stroke="#b31c42" stroke-width="1.5" stroke-linejoin="miter" stroke-linecap="butt"/>
</svg></body></html>
